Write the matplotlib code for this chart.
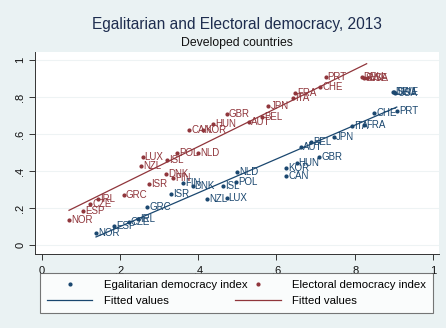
import numpy as np
import matplotlib
matplotlib.use("Agg")
import matplotlib.pyplot as plt
from matplotlib.lines import Line2D

plt.rcParams['font.family'] = ['Liberation Sans', 'DejaVu Sans']

# Egalitarian democracy index by country
egal_countries = ["NOR", "ESP", "CZE", "IRL", "GRC", "ISR", "FIN", "DNK", "NZL",
                  "LUX", "ISL", "POL", "NLD", "KOR", "CAN", "HUN", "GBR", "AUT",
                  "BEL", "JPN", "ITA", "FRA", "CHE", "PRT", "DEU", "SWE", "USA"]
egal_x = [0.139, 0.186, 0.223, 0.247, 0.270, 0.330, 0.361, 0.386, 0.424,
          0.473, 0.464, 0.497, 0.500, 0.625, 0.625, 0.652, 0.710, 0.663,
          0.689, 0.748, 0.794, 0.824, 0.850, 0.908, 0.898, 0.901, 0.904]
egal_y = [0.066, 0.103, 0.123, 0.141, 0.204, 0.276, 0.334, 0.319, 0.246,
          0.254, 0.319, 0.339, 0.396, 0.415, 0.375, 0.442, 0.474, 0.528,
          0.558, 0.582, 0.643, 0.649, 0.712, 0.726, 0.829, 0.825, 0.823]

# Electoral democracy index by country
elec_countries = ["NOR", "ESP", "CZE", "IRL", "GRC", "ISR", "NZL", "LUX", "ISL",
                  "POL", "NLD", "DNK", "FIN", "CAN", "KOR", "HUN", "GBR", "AUT",
                  "BEL", "JPN", "ITA", "FRA", "CHE", "PRT", "DEU", "SWE", "USA"]
elec_x = [0.070, 0.106, 0.124, 0.143, 0.210, 0.275, 0.254, 0.258, 0.320,
          0.346, 0.400, 0.318, 0.337, 0.377, 0.413, 0.438, 0.473, 0.530,
          0.563, 0.580, 0.642, 0.648, 0.712, 0.726, 0.818, 0.824, 0.831]
elec_y = [0.137, 0.182, 0.220, 0.247, 0.269, 0.330, 0.427, 0.476, 0.461,
          0.499, 0.499, 0.385, 0.361, 0.624, 0.622, 0.654, 0.710, 0.665,
          0.694, 0.750, 0.795, 0.823, 0.852, 0.910, 0.910, 0.904, 0.901]

x_ticks = [0, 0.2, 0.4, 0.6, 0.8, 1.0]
x_tick_labels = ["0", ".2", ".4", ".6", ".8", "1"]
y_ticks = [0, 0.2, 0.4, 0.6, 0.8, 1.0]
y_tick_labels = ["0", ".2", ".4", ".6", ".8", "1"]

BLUE = "#1a476f"
RED = "#90353b"
BG = "#eaf2f3"
AXC = "#333333"

W, H = 446, 328
fig = plt.figure(figsize=(W / 100, H / 100), dpi=100, facecolor=BG)
ax = fig.add_axes([35 / W, 1 - 254 / H, 404 / W, 202 / H])
ax.set_facecolor("white")

ax.set_xlim(-0.017, 1.016)
ax.set_ylim(-0.049, 1.043)

for yt in y_ticks:
    ax.axhline(yt, color="#eef3f4", lw=0.8, zorder=0)


def draw_series(xs, ys, names, color):
    xs = np.asarray(xs)
    ys = np.asarray(ys)
    ax.plot(xs, ys, "o", ms=2.0, color=color, mec=color, zorder=3)
    for x, y, n in zip(xs, ys, names):
        ax.annotate(n, (x, y), xytext=(1.5, 0), textcoords="offset points",
                    ha="left", va="center", fontsize=7, color=color, zorder=3)
    slope, inter = np.polyfit(xs, ys, 1)
    xf = np.array([xs.min(), xs.max()])
    ax.plot(xf, inter + slope * xf, color=color, lw=0.9, zorder=2)


draw_series(egal_x, egal_y, egal_countries, BLUE)
draw_series(elec_x, elec_y, elec_countries, RED)

ax.set_xticks(x_ticks)
ax.set_xticklabels(x_tick_labels)
ax.set_yticks(y_ticks)
ax.set_yticklabels(y_tick_labels, rotation=90, va="center")
ax.tick_params(axis="both", colors=AXC, labelcolor="#111111", labelsize=8,
               length=4, width=0.7, direction="out", pad=3)
ax.tick_params(axis="x", pad=5)
for side in ("top", "right"):
    ax.spines[side].set_visible(False)
for side in ("left", "bottom"):
    ax.spines[side].set_color(AXC)
    ax.spines[side].set_linewidth(0.7)

fig.text(237 / W, 1 - 24 / H, "Egalitarian and Electoral democracy, 2013",
         ha="center", va="center", fontsize=11.2, color="#1e2d4f")
fig.text(237 / W, 1 - 43 / H, "Developed countries",
         ha="center", va="center", fontsize=8.8, color="#111111")

handles = [
    Line2D([], [], ls="none", marker="o", ms=2.0, color=BLUE),
    Line2D([], [], color=BLUE, lw=0.9),
    Line2D([], [], ls="none", marker="o", ms=2.0, color=RED),
    Line2D([], [], color=RED, lw=0.9),
]
labels = ["Egalitarian democracy index", "Fitted values",
          "Electoral democracy index", "Fitted values"]
leg = fig.legend(handles, labels, ncol=2, loc="upper left",
                 bbox_to_anchor=(40 / W, 1 - 316 / H, 393 / W, 43 / H),
                 mode="expand", fontsize=8.2, frameon=True, fancybox=False,
                 edgecolor="#555555", handlelength=4.0, handletextpad=1.0,
                 columnspacing=1.5, borderpad=0.6, labelspacing=0.55,
                 borderaxespad=0)
leg.get_frame().set_linewidth(0.8)
leg.get_frame().set_facecolor("white")

fig.savefig("out.png", dpi=100, facecolor=BG)
